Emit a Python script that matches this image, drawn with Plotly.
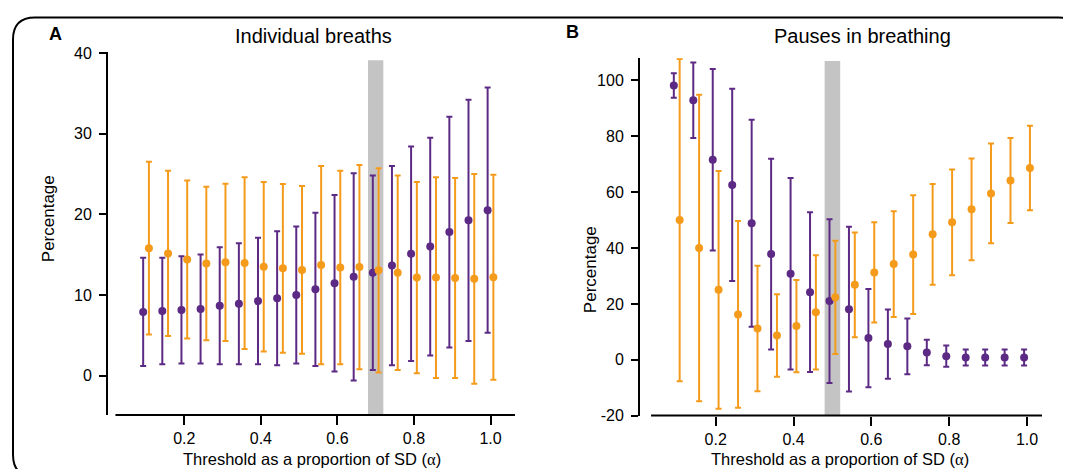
import plotly.graph_objects as go

# threshold values (proportion of SD)
alpha = [0.10, 0.15, 0.20, 0.25, 0.30, 0.35, 0.40, 0.45, 0.50, 0.55,
         0.60, 0.65, 0.70, 0.75, 0.80, 0.85, 0.90, 0.95, 1.00]

# panel A: individual breaths (mean, sd)
breath_purple = [7.9, 8.0, 8.15, 8.25, 8.65, 8.9, 9.25, 9.6, 10.0, 10.7,
                 11.45, 12.25, 12.75, 13.65, 15.1, 16.0, 17.8, 19.25, 20.5]
breath_purple_sd = [6.7, 6.6, 6.65, 6.75, 7.25, 7.5, 7.85, 8.3, 8.5, 9.5,
                    10.95, 12.85, 12.05, 12.35, 13.3, 13.5, 14.3, 14.95, 15.2]
breath_orange = [15.8, 15.15, 14.4, 13.9, 14.05, 13.95, 13.5, 13.3, 13.1, 13.7,
                 13.4, 13.45, 13.05, 12.75, 12.15, 12.15, 12.1, 12.0, 12.2]
breath_orange_sd = [10.7, 10.25, 9.8, 9.5, 9.75, 10.65, 10.5, 10.45, 10.4, 12.3,
                    12.0, 12.65, 12.65, 12.05, 11.85, 12.45, 12.4, 13.0, 12.7]

# panel B: pauses in breathing (mean, sd)
pause_purple = [98.2, 92.9, 71.6, 62.6, 48.85, 37.85, 30.8, 24.2, 21.0, 18.1,
                7.75, 5.6, 4.8, 2.6, 1.3, 0.8, 0.8, 0.8, 0.8]
pause_purple_sd = [4.4, 13.5, 32.5, 34.4, 37.05, 34.15, 34.3, 28.6, 29.3, 29.5,
                   17.55, 12.4, 10.0, 4.6, 3.8, 2.9, 2.9, 2.9, 2.9]
pause_orange = [50.0, 40.0, 25.05, 16.25, 11.2, 8.7, 12.05, 17.0, 22.35, 26.85,
                31.25, 34.25, 37.65, 44.9, 49.2, 53.85, 59.55, 64.2, 68.65]
pause_orange_sd = [57.7, 54.85, 42.55, 33.45, 22.5, 14.8, 16.55, 20.45, 20.25, 18.75,
                   17.95, 18.95, 21.25, 18.0, 18.9, 18.25, 17.85, 15.2, 15.15]

x_ticks = [0.2, 0.4, 0.6, 0.8, 1.0]
a_yticks = [0, 10, 20, 30, 40]
b_yticks = [-20, 0, 20, 40, 60, 80, 100]

PURPLE = "#5c2a84"
ORANGE = "#f59b1c"
# the page shifts/squeezes the figure a little, so map target pixels onto figure pixels
OFF_X, OFF_Y, SY = 8, 14.5, 0.966
W, H = 1055, 480
FONT = "Liberation Sans, Arial, sans-serif"


def px(x):
    return (x - OFF_X) / W


def py(y):
    return 1 - ((y - OFF_Y) / SY) / H


fig = go.Figure()


def add_pair(xa, ya, purple, purple_sd, orange, orange_sd):
    for vals, sd, col, off in [(purple, purple_sd, PURPLE, -0.0075),
                               (orange, orange_sd, ORANGE, 0.0075)]:
        fig.add_trace(go.Scatter(
            x=[a + off for a in alpha], y=vals, mode="markers",
            marker=dict(color=col, size=8),
            error_y=dict(type="data", array=sd, visible=True, color=col,
                         thickness=2, width=3),
            xaxis=xa, yaxis=ya, showlegend=False, cliponaxis=False))


add_pair("x", "y", breath_purple, breath_purple_sd, breath_orange, breath_orange_sd)
add_pair("x2", "y2", pause_purple, pause_purple_sd, pause_orange, pause_orange_sd)

axis_common = dict(showgrid=False, zeroline=False, ticks="outside", tickwidth=1.5,
                   tickcolor="black", tickfont=dict(family=FONT, size=16, color="black"))

fig.update_layout(
    width=W, height=H,
    margin=dict(l=0, r=0, t=0, b=0),
    paper_bgcolor="white", plot_bgcolor="white",
    showlegend=False,
    xaxis=dict(domain=[px(108), px(515)], range=[0.0006, 1.064], anchor="y",
               tickvals=x_ticks, ticktext=[f"{v:.1f}" for v in x_ticks],
               ticklen=9, showline=False, **axis_common),
    yaxis=dict(domain=[py(414), py(51)], range=[-4.87, 40.06], anchor="x",
               tickvals=a_yticks, ticktext=[str(v) for v in a_yticks],
               ticklen=7, showline=True, linecolor="black", linewidth=2,
               ticklabelstandoff=4, **axis_common),
    xaxis2=dict(domain=[px(640), px(1042)], range=[0.0056, 1.0385], anchor="y2",
                tickvals=x_ticks, ticktext=[f"{v:.1f}" for v in x_ticks],
                ticklen=9, showline=False, **axis_common),
    yaxis2=dict(domain=[py(414.7), py(56.7)], range=[-20, 108], anchor="x2",
                tickvals=b_yticks, ticktext=[str(v) for v in b_yticks],
                ticklen=7, showline=True, linecolor="black", linewidth=2,
                ticklabelstandoff=4, **axis_common),
)

# highlighted threshold bands
fig.add_shape(type="rect", xref="x", yref="y", x0=0.68, x1=0.72, y0=-4.75, y1=39.1,
              fillcolor="#c4c4c4", line_width=0, layer="below")
fig.add_shape(type="rect", xref="x2", yref="y2", x0=0.48, x1=0.52, y0=-20, y1=107,
              fillcolor="#c4c4c4", line_width=0, layer="below")

# detached x axis lines
fig.add_shape(type="line", xref="x", yref="y domain", x0=0.02, x1=1.064, y0=0, y1=0,
              line=dict(color="black", width=2))
fig.add_shape(type="line", xref="x2", yref="y2 domain", x0=0.034, x1=1.0385, y0=0, y1=0,
              line=dict(color="black", width=2))

# rounded frame
L, T, R, B, r = 13, 16, 1080, 476, 22
path = (f"M {px(L)},{py(B - r)} L {px(L)},{py(T + r)} Q {px(L)},{py(T)} {px(L + r)},{py(T)} "
        f"L {px(R - r)},{py(T)} Q {px(R)},{py(T)} {px(R)},{py(T + r)} "
        f"L {px(R)},{py(B - r)} Q {px(R)},{py(B)} {px(R - r)},{py(B)} "
        f"L {px(L + r)},{py(B)} Q {px(L)},{py(B)} {px(L)},{py(B - r)} Z")
fig.add_shape(type="path", xref="paper", yref="paper", path=path,
              line=dict(color="black", width=2), fillcolor="rgba(0,0,0,0)")

txt = dict(family=FONT, color="black")
xlabel = 'Threshold as a proportion of SD (<span style="font-family:Liberation Serif">α</span>)'
annotations = [
    dict(x=px(55), y=py(33), text="<b>A</b>", font=dict(size=18, **txt)),
    dict(x=px(572), y=py(31), text="<b>B</b>", font=dict(size=18, **txt)),
    dict(x=px(313), y=py(35), text="Individual breaths", font=dict(size=20, **txt)),
    dict(x=px(862), y=py(35), text="Pauses in breathing", font=dict(size=20, **txt)),
    dict(x=px(48), y=py(218), text="Percentage", textangle=-90, font=dict(size=17, **txt)),
    dict(x=px(590), y=py(269), text="Percentage", textangle=-90, font=dict(size=17, **txt)),
    dict(x=px(312), y=py(459), text=xlabel, font=dict(size=16.5, **txt)),
    dict(x=px(840), y=py(459), text=xlabel, font=dict(size=16.5, **txt)),
]
for a in annotations:
    fig.add_annotation(xref="paper", yref="paper", showarrow=False,
                       xanchor="center", yanchor="middle", **a)

fig.write_html("out.html")
